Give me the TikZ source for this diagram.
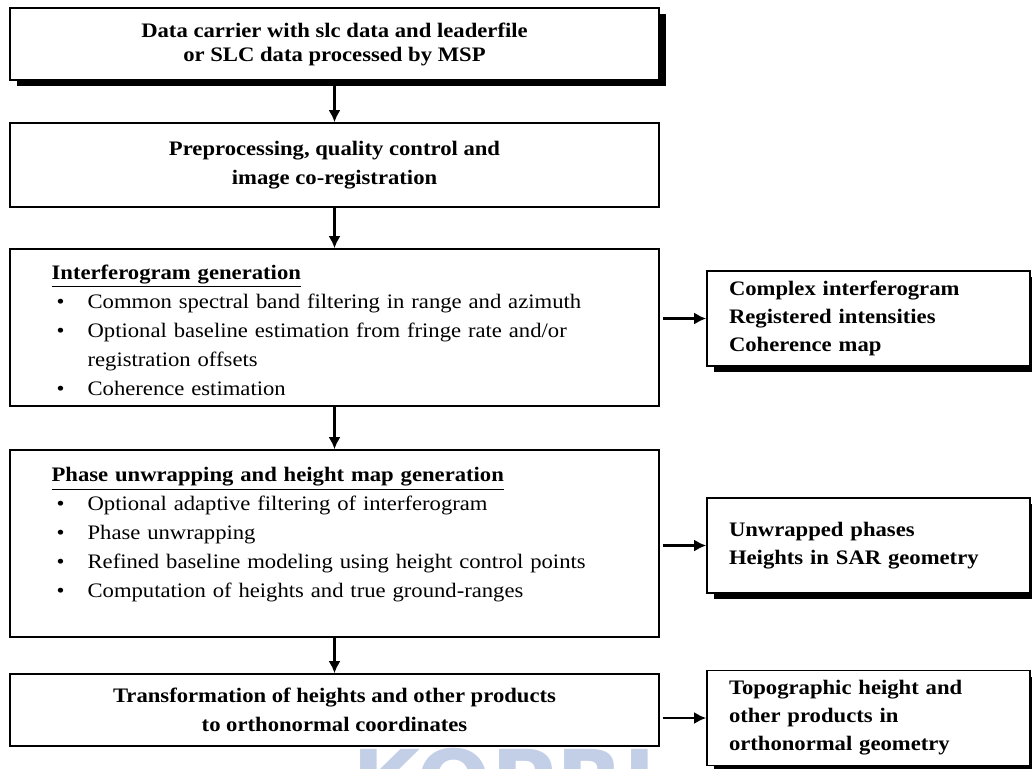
\documentclass[tikz,border=0pt]{standalone}
\usepackage{fontspec}
\setmainfont{Liberation Serif}[FakeStretch=1.1]
\newfontfamily\wmfont{DejaVu Sans}
\usetikzlibrary{arrows.meta,shadows}
\definecolor{wmblue}{RGB}{195,207,230}
% bullet line and continuation line of a bullet list
\newcommand{\bitem}[1]{\hspace*{2.5pt}\makebox[15.5pt][l]{\textbullet}#1}
\newcommand{\bcont}[1]{\hspace*{18pt}#1}
\begin{document}
\begin{tikzpicture}[x=0.5pt,y=-0.5pt,
  every node/.style={font=\fontsize{10.3}{14.5}\selectfont},
  stage/.style={draw, line width=0.8pt, fill=white, inner sep=0pt,
    minimum width=324.5pt, align=center},
  product/.style={draw, line width=0.8pt, fill=white, inner xsep=11pt,
    inner ysep=0pt, text width=139.5pt, align=left, minimum height=47.5pt,
    font=\bfseries\fontsize{10.3}{14}\selectfont},
  shadowed/.style={general shadow={fill=black, shadow xshift=3.5pt, shadow yshift=-3pt}},
  flow/.style={line width=1.4pt, -{Latex[length=6pt,width=6pt]}},
  steptext/.style={anchor=north west, inner sep=0pt, align=left, text width=300pt}
]
\useasboundingbox[fill=white] (0,0) rectangle (1032,768);

% watermark
\node[anchor=north west, inner sep=0pt, text=wmblue,
  font=\wmfont\bfseries\fontsize{44}{44}\selectfont] (wm) at (352,748) {KOPRI};

% processing chain
\node[stage, shadowed, minimum height=36pt,
  font=\bfseries\fontsize{10.3}{12}\selectfont] (b1) at (334.5,44)
  {Data carrier with slc data and leaderfile\\or SLC data processed by MSP};
\node[stage, minimum height=42pt, font=\bfseries\fontsize{10.3}{14.5}\selectfont] (b2) at (334.5,165)
  {Preprocessing, quality control and\\image co-registration};
\node[stage, minimum height=78.5pt] (b3) at (334.5,327.5) {};
\node[steptext] (t3) at ([shift={(21pt,-8pt)}]b3.north west)
  {\textbf{\underline{Interferogram generation}}\\
   \bitem{Common spectral band filtering in range and azimuth}\\
   \bitem{Optional baseline estimation from fringe rate and/or}\\
   \bcont{registration offsets}\\
   \bitem{Coherence estimation}};
\node[stage, minimum height=93.5pt] (b4) at (334.5,543.5) {};
\node[steptext] (t4) at ([shift={(21pt,-9pt)}]b4.north west)
  {\textbf{\underline{Phase unwrapping and height map generation}}\\
   \bitem{Optional adaptive filtering of interferogram}\\
   \bitem{Phase unwrapping}\\
   \bitem{Refined baseline modeling using height control points}\\
   \bitem{Computation of heights and true ground-ranges}};
\node[stage, minimum height=36pt, font=\bfseries\fontsize{10.3}{14.5}\selectfont] (b5) at (334.5,710)
  {Transformation of heights and other products\\to orthonormal coordinates};

% products
\node[product, shadowed] (r1) at (868.5,318.5)
  {Complex interferogram\\Registered intensities\\Coherence map};
\node[product, shadowed] (r2) at (868.5,545.5)
  {Unwrapped phases\\Heights in SAR geometry};
\node[product, shadowed] (r3) at (868.5,718)
  {Topographic height and\\other products in\\orthonormal geometry};

% connectors
\draw[flow] (b1.south) -- (b2.north);
\draw[flow] (b2.south) -- (b3.north);
\draw[flow] (b3.south) -- (b4.north);
\draw[flow] (b4.south) -- (b5.north);
\draw[flow, shorten <=1.5pt] (b3.east |- r1.west) -- (r1.west);
\draw[flow, shorten <=1.5pt] (b4.east |- r2.west) -- (r2.west);
\draw[flow, shorten <=1.5pt] (b5.east |- r3.west) -- (r3.west);
\end{tikzpicture}
\end{document}
